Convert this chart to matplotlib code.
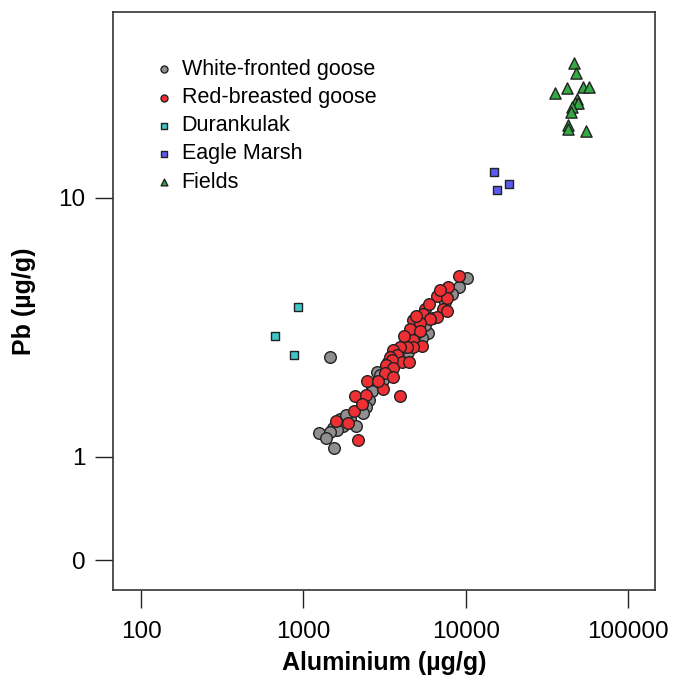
import matplotlib
matplotlib.use("Agg")
import matplotlib.pyplot as plt

plt.rcParams["font.family"] = ["Liberation Sans", "DejaVu Sans"]

# Aluminium vs lead concentrations (µg/g)
white_al = [10240, 9145, 7470, 5890, 5360, 4230, 4440, 2830, 2970, 3100,
            2640, 2640, 2520, 2430, 2320, 1940, 1680, 1750, 1520, 2110,
            1620, 1255, 1460, 1550, 2290, 1450, 6300, 5620, 4880, 3830,
            3330, 8250, 1830, 1380]
white_pb = [4.90, 4.54, 3.98, 3.02, 2.87, 2.76, 2.55, 2.12, 2.07, 1.98,
            1.87, 1.79, 1.66, 1.56, 1.48, 1.41, 1.40, 1.32, 1.29, 1.32,
            1.27, 1.24, 1.25, 1.08, 1.61, 2.44, 3.44, 3.23, 2.96, 2.54,
            2.33, 4.26, 1.45, 1.18]

red_al = [9145, 7820, 6640, 7710, 5620, 7290, 7710, 5490, 6690, 6030,
          4720, 5240, 4540, 5240, 4760, 5360, 4760, 4340, 3940, 3550,
          3760, 3420, 4040, 4500, 3500, 3230, 3590, 3190, 3590, 2480,
          3080, 3940, 2080, 2430, 2050, 1590, 1890, 2180, 4170, 4950,
          5950, 2890, 2300, 6960]
red_pb = [5.01, 4.54, 4.18, 4.10, 3.72, 3.72, 3.67, 3.57, 3.46, 3.40,
          3.38, 3.28, 3.11, 3.07, 2.83, 2.68, 2.65, 2.65, 2.65, 2.59,
          2.48, 2.44, 2.33, 2.33, 2.37, 2.27, 2.20, 2.10, 2.03, 1.97,
          1.83, 1.72, 1.72, 1.74, 1.50, 1.38, 1.35, 1.16, 2.93, 3.50,
          3.90, 1.97, 1.60, 4.41]

durankulak_al = [670, 927, 877]
durankulak_pb = [2.93, 3.80, 2.48]

eagle_al = [14960, 15600, 18500]
eagle_pb = [12.6, 10.7, 11.3]

fields_al = [46560, 47900, 35400, 41970, 53100, 57800, 48350, 47200,
             49450, 45050, 44420, 42930, 42930, 55200]
fields_pb = [33.3, 30.3, 25.5, 26.5, 26.9, 26.8, 24.0, 23.2,
             23.3, 22.5, 21.5, 19.1, 18.4, 18.2]

x_ticks = [100, 1000, 10000, 100000]
y_ticks = [0.4, 1, 10]
y_ticklabels = ["0", "1", "10"]

fig = plt.figure(figsize=(6.75, 6.8), dpi=100)
ax = fig.add_axes([0.1674, 0.1324, 0.803, 0.850])

ax.scatter(white_al, white_pb, s=70, marker="o", facecolor="#8f8f8f",
           edgecolor="#222222", linewidth=1.0, label="White-fronted goose", zorder=3)
ax.scatter(red_al, red_pb, s=70, marker="o", facecolor="#ee3035",
           edgecolor="#222222", linewidth=1.0, label="Red-breasted goose", zorder=4)
ax.scatter(durankulak_al, durankulak_pb, s=38, marker="s", facecolor="#3ec6c8",
           edgecolor="#222222", linewidth=1.0, label="Durankulak", zorder=3)
ax.scatter(eagle_al, eagle_pb, s=38, marker="s", facecolor="#5a5af0",
           edgecolor="#222222", linewidth=1.0, label="Eagle Marsh", zorder=3)
ax.scatter(fields_al, fields_pb, s=65, marker="^", facecolor="#33aa44",
           edgecolor="#222222", linewidth=1.0, label="Fields", zorder=3)

ax.set_xscale("log")
ax.set_yscale("log")
ax.set_xlim(67.2, 146700)
ax.set_ylim(0.3065, 52.2)

ax.set_xticks(x_ticks)
ax.set_xticklabels([str(t) for t in x_ticks])
ax.set_yticks(y_ticks)
ax.set_yticklabels(y_ticklabels)
ax.minorticks_off()
ax.tick_params(axis="both", which="major", direction="out", length=13,
               width=1.0, labelsize=17.5, color="#222222")
ax.tick_params(axis="x", pad=9)
ax.tick_params(axis="y", pad=7)

for sp in ax.spines.values():
    sp.set_linewidth(1.2)
    sp.set_color("#333333")

ax.set_xlabel("Aluminium (µg/g)", fontsize=18, fontweight="bold", labelpad=6)
ax.set_ylabel("Pb (µg/g)", fontsize=18, fontweight="bold", labelpad=16)

leg = ax.legend(loc="upper left", bbox_to_anchor=(0.055, 0.937), frameon=False,
                fontsize=15.5, markerscale=0.6, handletextpad=0.3,
                labelspacing=0.33, borderpad=0, handlelength=1.0)

fig.savefig("out.png", dpi=100)
